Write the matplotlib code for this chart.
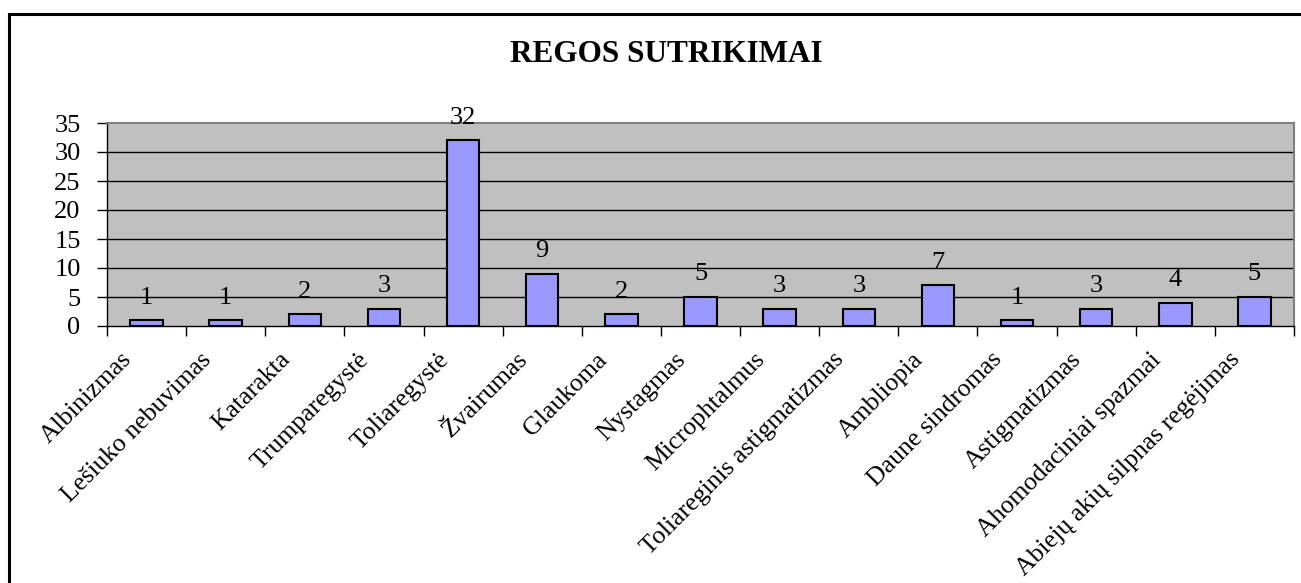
import numpy as np
import matplotlib
matplotlib.use("Agg")
from matplotlib import pyplot as plt
from matplotlib.lines import Line2D
from matplotlib.transforms import ScaledTranslation

categories = ["Albinizmas", "Lešiuko nebuvimas", "Katarakta", "Trumparegystė",
              "Toliaregystė", "Žvairumas", "Glaukoma", "Nystagmas",
              "Microphtalmus", "Toliareginis astigmatizmas", "Ambliopia",
              "Daune sindromas", "Astigmatizmas", "Ahomodaciniai spazmai",
              "Abiejų akių silpnas regėjimas"]
values = [1, 1, 2, 3, 32, 9, 2, 5, 3, 3, 7, 1, 3, 4, 5]
yticks = [0, 5, 10, 15, 20, 25, 30, 35]

plt.rcParams['font.family'] = ['Liberation Serif', 'DejaVu Serif']

W, H = 1301, 583
fig = plt.figure(figsize=(W / 100, H / 100), dpi=100)

# outer chart frame (only left and top edges visible)
fig.add_artist(Line2D([8.5 / W, 8.5 / W], [0, 1 - 13.5 / H], transform=fig.transFigure,
                      color='black', lw=2.2))
fig.add_artist(Line2D([8.5 / W, 1], [1 - 13.5 / H, 1 - 13.5 / H], transform=fig.transFigure,
                      color='black', lw=2.2))

ax = fig.add_axes([107 / W, 1 - 326 / H, (1294 - 107) / W, (326 - 123) / H])
ax.set_facecolor('#C0C0C0')

x = np.arange(len(categories))
ax.bar(x, values, width=0.41, color='#9999FF', edgecolor='black', linewidth=1.5, zorder=3)

for xi, v in zip(x, values):
    ax.annotate(str(v), (xi, v), xytext=(0, 12), textcoords='offset points',
                ha='center', va='baseline', fontsize=19, zorder=4)

ax.set_xlim(-0.5, len(categories) - 0.5)
ax.set_ylim(0, 35)
ax.set_yticks(yticks)
ax.tick_params(axis='y', labelsize=19, direction='out', length=7, width=1, pad=12)

# ticks between categories, labels at centres
ax.set_xticks(np.arange(-0.5, len(categories)))
ax.set_xticklabels([])
ax.tick_params(axis='x', which='major', direction='out', length=7, width=1)
ax.set_xticks(x, minor=True)
ax.set_xticklabels(categories, minor=True, rotation=45, ha='right', va='center',
                   rotation_mode='anchor', fontsize=18.5)
ax.tick_params(axis='x', which='minor', length=0, pad=24)
shift = ScaledTranslation(-0.18, 0.03, fig.dpi_scale_trans)
for lab in ax.get_xticklabels(minor=True):
    lab.set_transform(lab.get_transform() + shift)

for y in yticks[1:-1]:
    ax.axhline(y, color='black', lw=1, zorder=1)

for s in ['top', 'right']:
    ax.spines[s].set_color('#808080')
    ax.spines[s].set_linewidth(1.5)
for s in ['left', 'bottom']:
    ax.spines[s].set_color('black')
    ax.spines[s].set_linewidth(1)

fig.text(666 / W, 1 - 55 / H, "REGOS SUTRIKIMAI", ha='center', va='center',
         fontsize=22.5, fontweight='bold')

plt.savefig('out.png', dpi=100)
